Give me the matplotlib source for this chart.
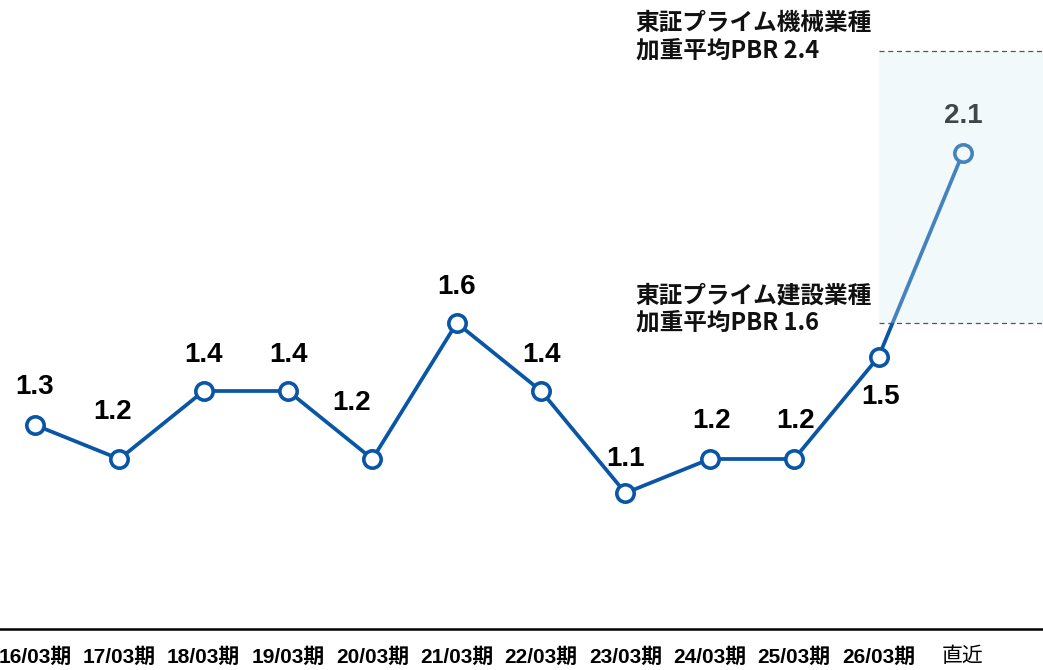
# -*- coding: utf-8 -*-
"""
PBR推移 (16/03期 - 直近) と業種平均PBRの比較
"""

import numpy as np
import matplotlib.pyplot as plt

# data
periods = ['16/03期', '17/03期', '18/03期', '19/03期', '20/03期', '21/03期',
           '22/03期', '23/03期', '24/03期', '25/03期', '26/03期', '直近']
pbr = [1.3, 1.2, 1.4, 1.4, 1.2, 1.6, 1.4, 1.1, 1.2, 1.2, 1.5, 2.1]
machinery_pbr = 2.4
construction_pbr = 1.6
machinery_label = '東証プライム機械業種\n加重平均PBR 2.4'
construction_label = '東証プライム建設業種\n加重平均PBR 1.6'

# label offsets in pixels (dx, dy), positive dy = up
label_offsets = [(0, 38), (-7, 47), (0, 36), (0, 36), (-21, 56), (0, 36),
                 (0, 36), (0, 34), (2, 38), (1, 38), (2, -40), (0, 37)]

BLUE = '#0a56a6'
LATIN = ['Liberation Sans', 'Noto Sans CJK JP']
CJK = ['Noto Sans CJK JP', 'DejaVu Sans']

fig = plt.figure(figsize=(10.43, 6.70), dpi=100)
ax = fig.add_axes([0, 41 / 670, 1, 629 / 670])
x = np.arange(len(pbr))

ax.plot(x, pbr, color=BLUE, lw=2.7, marker='o', markersize=12.5,
        markerfacecolor='white', markeredgecolor=BLUE, markeredgewidth=2.6,
        zorder=3)

for xi, v, (dx, dy) in zip(x, pbr, label_offsets):
    ax.annotate(f'{v:.1f}', (xi, v), xytext=(dx * 0.72, dy * 0.72),
                textcoords='offset points', ha='center', va='center',
                fontsize=20, fontweight='bold', family=LATIN, color='black',
                zorder=4)

# shaded band between the two industry averages (drawn over the line)
ax.fill_between([10, 12.5], construction_pbr, machinery_pbr,
                color=(212 / 255, 238 / 255, 245 / 255), alpha=0.3,
                lw=0, zorder=5)
for lvl in [machinery_pbr, construction_pbr]:
    ax.plot([10, 12.5], [lvl, lvl], color='#555555', lw=0.9,
            ls=(0, (4, 3)), zorder=6)

ax.text(7.12, machinery_pbr + 0.041, machinery_label, ha='left', va='center',
        fontsize=17, fontweight='bold', family=CJK, color='#111111',
        linespacing=1.2)
ax.text(7.12, construction_pbr + 0.041, construction_label, ha='left',
        va='center', fontsize=17, fontweight='bold', family=CJK,
        color='#111111', linespacing=1.2)

ax.set_xlim(-0.415, 11.95)
ax.set_ylim(0.7, 2.55)
ax.set_xticks(x)
ax.set_xticklabels(periods, family=LATIN, fontsize=15)
for i, t in enumerate(ax.get_xticklabels()):
    t.set_fontweight('normal' if i == len(periods) - 1 else 'bold')
ax.tick_params(axis='x', length=0, pad=13)
ax.set_yticks([])
for s in ['top', 'left', 'right']:
    ax.spines[s].set_visible(False)
ax.spines['bottom'].set_linewidth(1.8)
ax.spines['bottom'].set_color('black')

fig.savefig('out.png', dpi=100)
